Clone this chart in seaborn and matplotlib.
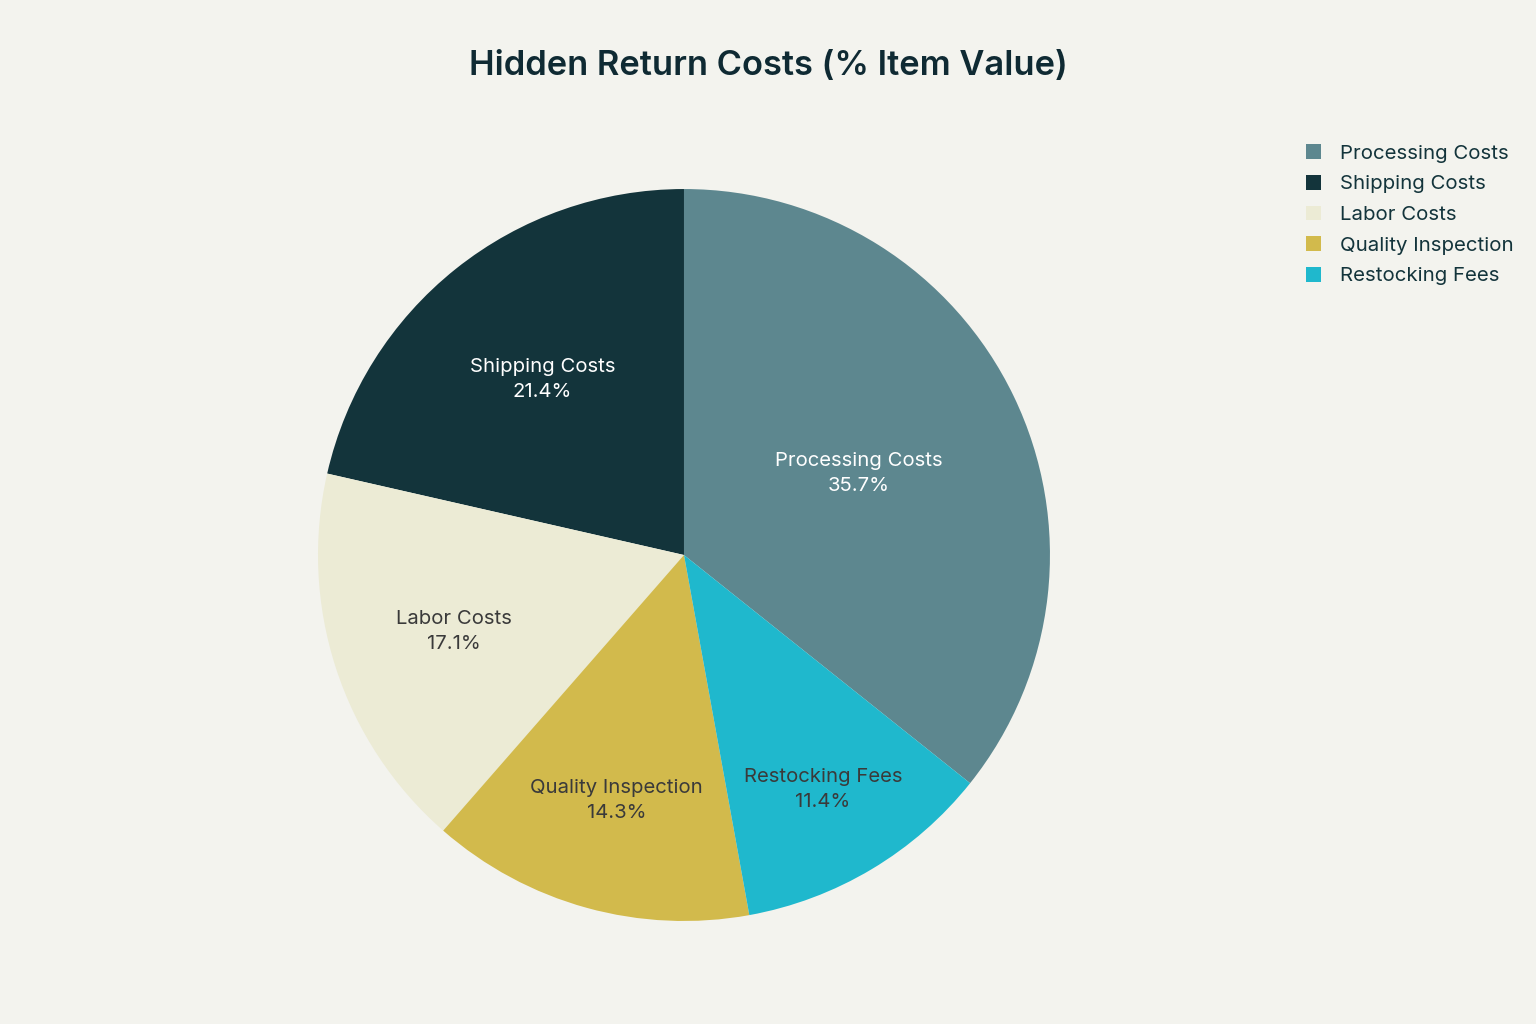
import numpy as np
import pandas as pd
import matplotlib
matplotlib.use("Agg")
import matplotlib.pyplot as plt
import seaborn as sns
from matplotlib.patches import Patch

# data: share of hidden return costs (relative weights)
categories = ["Processing Costs", "Shipping Costs", "Labor Costs",
              "Quality Inspection", "Restocking Fees"]
values = [25, 15, 12, 10, 8]
colors = ["#5D878F", "#13343B", "#ECEBD5", "#D2BA4C", "#1FB8CD"]
text_colors = ["white", "white", "#3a3a3a", "#3a3a3a", "#3a3a3a"]
label_radius = [0.53, 0.62, 0.66, 0.69, 0.74]

df = pd.DataFrame({"category": categories, "value": values})
df["pct"] = df["value"] / df["value"].sum() * 100

sns.set_theme(style="white")
plt.rcParams["font.family"] = ["Inter", "DejaVu Sans"]

bg = "#F3F3EE"
fig = plt.figure(figsize=(15.36, 10.24), dpi=100, facecolor=bg)
ax = fig.add_axes([0.207, 0.1006, 0.4766, 0.7148])
ax.set_facecolor(bg)

start = 90 - 360 * df["value"].iloc[0] / df["value"].sum()
wedges, _ = ax.pie(df["value"], colors=colors, startangle=start,
                   counterclock=True, radius=1.0,
                   wedgeprops=dict(linewidth=0))

for w, cat, pct, tc, r in zip(wedges, df["category"], df["pct"],
                              text_colors, label_radius):
    mid = np.deg2rad((w.theta1 + w.theta2) / 2)
    ax.text(r * np.cos(mid), r * np.sin(mid) - 0.006, f"{cat}\n{pct:.1f}%",
            ha="center", va="center", fontsize=14.6, color=tc,
            linespacing=1.5)

ax.set_xlim(-1, 1)
ax.set_ylim(-1, 1)
ax.set_aspect("equal")
ax.axis("off")

handles = [Patch(facecolor=c, edgecolor="none") for c in colors]
fig.legend(handles, categories, loc="upper left",
           bbox_to_anchor=(0.8385, 0.877), frameon=False, fontsize=14.7,
           handlelength=0.72, handleheight=0.72, handletextpad=0.95,
           labelspacing=0.6, labelcolor="#13343B")

fig.suptitle("Hidden Return Costs (% Item Value)", x=0.5, y=0.936,
             va="center", fontsize=24.8, fontweight="semibold",
             color="#0F2A33")

fig.savefig("out.png", dpi=100, facecolor=bg)
